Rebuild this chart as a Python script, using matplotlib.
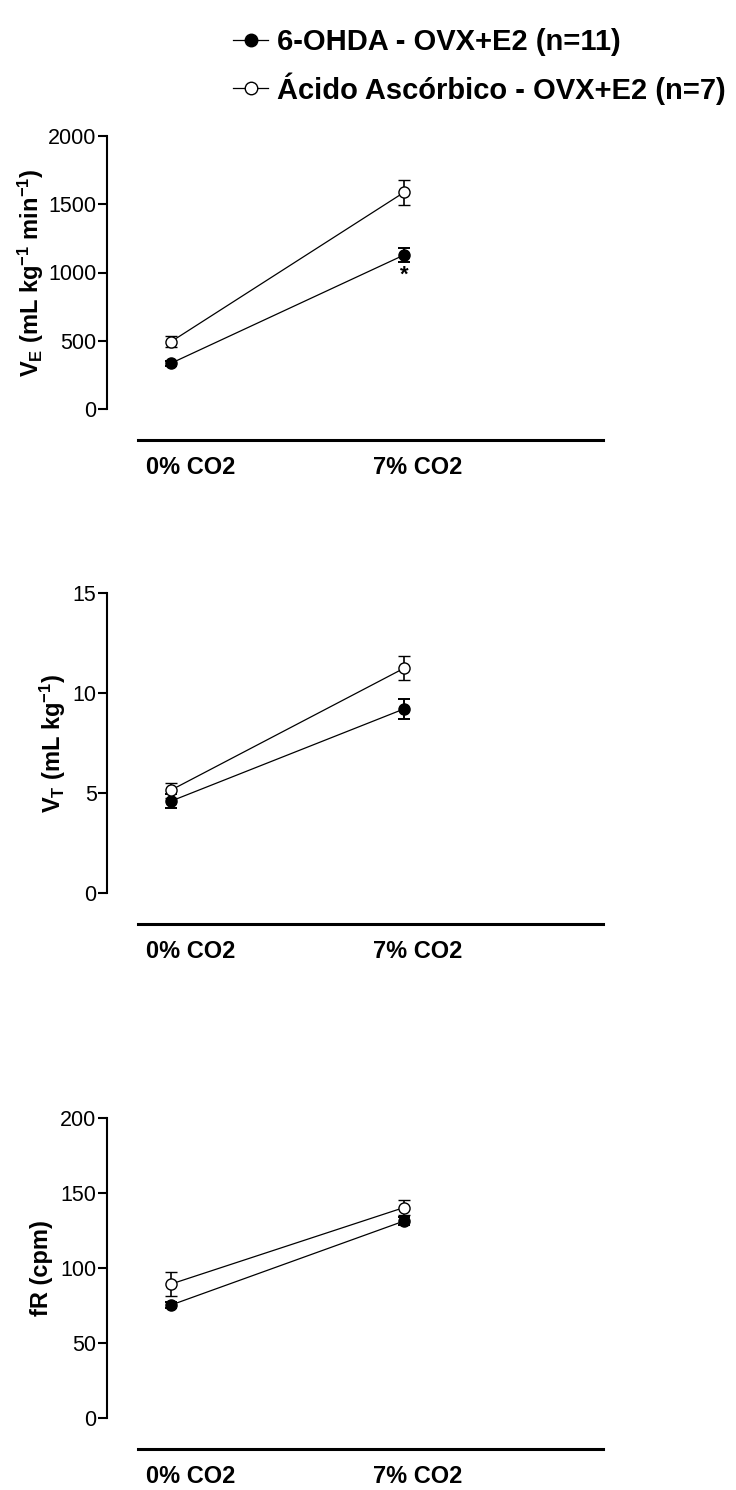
import matplotlib
matplotlib.use("Agg")
import matplotlib.pyplot as plt
from matplotlib.lines import Line2D

plt.rcParams["font.family"] = ["Liberation Sans", "DejaVu Sans"]
plt.rcParams["mathtext.fontset"] = "custom"
plt.rcParams["mathtext.rm"] = "Liberation Sans:bold"
plt.rcParams["mathtext.it"] = "Liberation Sans:bold"
plt.rcParams["mathtext.bf"] = "Liberation Sans:bold"

# ── Data ───────────────────────────────────────────────────
conditions = ["0% CO2", "7% CO2"]
groups = ["6-OHDA - OVX+E2 (n=11)", "Ácido Ascórbico - OVX+E2 (n=7)"]

ve_ohda = [335, 1128]
ve_ohda_sem = [20, 48]
ve_aa = [493, 1587]
ve_aa_sem = [40, 92]

vt_ohda = [4.6, 9.2]
vt_ohda_sem = [0.36, 0.5]
vt_aa = [5.15, 11.23]
vt_aa_sem = [0.37, 0.6]

fr_ohda = [75.5, 131.5]
fr_ohda_sem = [2, 2.5]
fr_aa = [89.5, 140.5]
fr_aa_sem = [8, 5]

ylabels = [r"V$_{\mathrm{E}}$ (mL kg$^{\mathrm{-1}}$ min$^{\mathrm{-1}}$)",
           r"V$_{\mathrm{T}}$ (mL kg$^{\mathrm{-1}}$)",
           "fR (cpm)"]
yticks = [[0, 500, 1000, 1500, 2000], [0, 5, 10, 15], [0, 50, 100, 150, 200]]

panels = [
    (ve_ohda, ve_ohda_sem, ve_aa, ve_aa_sem),
    (vt_ohda, vt_ohda_sem, vt_aa, vt_aa_sem),
    (fr_ohda, fr_ohda_sem, fr_aa, fr_aa_sem),
]

# ── Figure / layout (pixels -> fractions) ──────────────────
W, H = 736, 1490
fig = plt.figure(figsize=(W / 100, H / 100), dpi=100)

# (top px, bottom px, ylabel centre x in axes fraction)
boxes = [(136, 409, -0.154), (592.7, 893.3, -0.110), (1118.3, 1418.3, -0.133)]
ax_left, ax_right = 107, 603
xpos = [0, 1]
label_shift = [14.5, 10]  # points to the right of each condition

for i, (oh, oh_s, aa, aa_s) in enumerate(panels):
    top, bot, lab_x = boxes[i]
    ax = fig.add_axes([ax_left / W, 1 - bot / H, (ax_right - ax_left) / W, (bot - top) / H])

    ax.errorbar(xpos, oh, yerr=oh_s, color="black", marker="o", markersize=8,
                markerfacecolor="black", markeredgecolor="black", lw=0.9,
                elinewidth=1.4, capsize=4.3, capthick=1.4, clip_on=False, zorder=3)
    ax.errorbar(xpos, aa, yerr=aa_s, color="black", marker="o", markersize=8,
                markerfacecolor="white", markeredgecolor="black", mew=1.0, lw=0.9,
                elinewidth=1.2, capsize=4.3, capthick=1.2, clip_on=False, zorder=4)

    ax.set_xlim(-0.2747, 1.854)
    ax.set_ylim(yticks[i][0], yticks[i][-1])
    ax.set_yticks(yticks[i])
    ax.tick_params(axis="y", length=6.5, width=1.5, labelsize=15.5, pad=1)

    # x categories drawn below the detached baseline
    ax.set_xticks([])
    for j, cond in enumerate(conditions):
        ax.annotate(cond, xy=(xpos[j], 0), xycoords=("data", "axes fraction"),
                    xytext=(label_shift[j], -42), textcoords="offset points",
                    ha="center", va="center", fontsize=17, fontweight="bold",
                    annotation_clip=False)

    for s in ["top", "right"]:
        ax.spines[s].set_visible(False)
    ax.spines["left"].set_linewidth(1.5)
    ax.spines["bottom"].set_linewidth(2.2)
    ax.spines["bottom"].set_position(("outward", 22.3))
    ax.spines["bottom"].set_bounds(-0.1416, 1.854)

    ax.text(lab_x, 0.5, ylabels[i], transform=ax.transAxes, rotation=90,
            ha="center", va="center", fontsize=17, fontweight="bold")

    if i == 0:
        ax.annotate("*", xy=(1, oh[1] - oh_s[1]), xytext=(0, -9.5),
                    textcoords="offset points", ha="center", va="center",
                    fontsize=16, fontweight="bold")

# ── Legend ─────────────────────────────────────────────────
handles = [
    Line2D([], [], color="black", lw=0.9, marker="o", markersize=9,
           markerfacecolor="black", markeredgecolor="black"),
    Line2D([], [], color="black", lw=0.9, marker="o", markersize=9,
           markerfacecolor="white", markeredgecolor="black"),
]
leg = fig.legend(handles, groups, loc="upper left",
                 bbox_to_anchor=(233 / W, 1 - 28 / H), frameon=False,
                 borderpad=0, borderaxespad=0, handlelength=1.2,
                 handletextpad=0.3, labelspacing=0.55,
                 prop={"size": 21, "weight": "bold"})

fig.savefig("out.png", dpi=100)
